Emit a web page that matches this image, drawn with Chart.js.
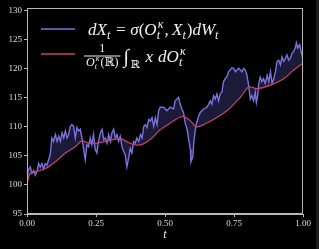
<!DOCTYPE html>
<html>
<head>
<meta charset="utf-8">
<script src="https://cdn.jsdelivr.net/npm/chart.js@4"></script>
<style>
  html, body { margin: 0; padding: 0; background: #1b1b1b; }
  #wrap { position: relative; width: 316px; height: 249px; background: #000; }
</style>
</head>
<body>
<div id="wrap"><canvas id="chart"></canvas></div>
<script>
// Path of X_t (noisy purple line)
const pathT = [
  0.000, 0.004, 0.012, 0.018, 0.024, 0.030, 0.036, 0.042, 0.048, 0.054,
  0.060, 0.066, 0.072, 0.078, 0.084, 0.090, 0.096, 0.103, 0.109, 0.115,
  0.121, 0.127, 0.133, 0.139, 0.145, 0.151, 0.157, 0.163, 0.169, 0.175,
  0.181, 0.187, 0.193, 0.199, 0.205, 0.211, 0.217, 0.223, 0.229, 0.235,
  0.241, 0.247, 0.253, 0.259, 0.266, 0.272, 0.278, 0.284, 0.290, 0.296,
  0.302, 0.308, 0.314, 0.320, 0.326, 0.332, 0.338, 0.344, 0.350, 0.356,
  0.362, 0.368, 0.374, 0.380, 0.386, 0.392, 0.398, 0.405, 0.411, 0.417,
  0.423, 0.429, 0.435, 0.441, 0.447, 0.453, 0.459, 0.465, 0.471, 0.477,
  0.483, 0.495, 0.507, 0.519, 0.531, 0.537, 0.549, 0.555, 0.561, 0.567,
  0.573, 0.580, 0.586, 0.592, 0.594, 0.601, 0.604, 0.610, 0.613, 0.622,
  0.628, 0.634, 0.640, 0.652, 0.658, 0.664, 0.670, 0.676, 0.682, 0.688,
  0.694, 0.700, 0.706, 0.712, 0.718, 0.724, 0.730, 0.736, 0.742, 0.749,
  0.755, 0.761, 0.767, 0.773, 0.779, 0.785, 0.791, 0.797, 0.803, 0.809,
  0.815, 0.821, 0.827, 0.831, 0.836, 0.839, 0.845, 0.851, 0.857, 0.863,
  0.870, 0.876, 0.882, 0.888, 0.894, 0.900, 0.906, 0.912, 0.918, 0.924,
  0.930, 0.936, 0.942, 0.948, 0.954, 0.960, 0.966, 0.972, 0.976, 0.981,
  0.988, 0.993, 1.000
];
const pathX = [
  100.2, 102.5, 103.1, 102.0, 102.5, 101.7, 102.3, 103.7, 103.1, 103.7,
  102.8, 103.7, 103.4, 104.3, 105.2, 108.1, 107.5, 108.7, 107.5, 108.4,
  107.5, 109.0, 108.1, 109.3, 108.1, 108.7, 110.1, 110.4, 110.1, 108.1,
  109.9, 109.3, 109.6, 108.1, 106.3, 104.3, 106.9, 106.6, 108.1, 106.9,
  108.7, 106.1, 105.5, 107.5, 109.0, 109.6, 107.8, 108.1, 107.2, 108.7,
  107.5, 109.0, 109.6, 108.1, 108.7, 107.5, 108.4, 106.6, 105.8, 105.2,
  103.1, 104.6, 106.3, 105.5, 107.5, 107.2, 108.1, 107.5, 108.7, 108.1,
  110.1, 110.4, 109.9, 111.3, 111.0, 111.6, 110.1, 111.6, 110.4, 112.8,
  113.4, 113.4, 112.8, 113.4, 113.1, 114.5, 115.1, 113.9, 113.1, 112.5,
  110.7, 109.6, 107.8, 106.1, 104.0, 104.9, 107.2, 109.6, 110.4, 111.9,
  112.5, 112.8, 113.1, 113.4, 113.9, 114.5, 113.9, 115.4, 114.8, 115.7,
  114.5, 115.7, 116.0, 117.8, 118.3, 118.6, 119.5, 119.8, 120.2, 120.1,
  119.5, 119.8, 120.1, 119.8, 119.5, 120.1, 119.8, 118.9, 117.2, 114.8,
  115.4, 114.5, 116.0, 114.2, 115.4, 117.2, 118.6, 117.8, 118.3, 117.5,
  118.9, 117.8, 119.5, 117.5, 118.3, 119.5, 121.3, 121.5, 120.7, 122.1,
  121.3, 121.8, 122.4, 121.5, 121.8, 122.7, 123.0, 123.6, 124.5, 123.6,
  124.2, 123.0, 121.8
];

// Mean of the measure (smooth red line)
const meanT = [
  0.000, 0.004, 0.012, 0.030, 0.066, 0.103, 0.139, 0.175, 0.199, 0.223,
  0.253, 0.284, 0.320, 0.344, 0.368, 0.392, 0.417, 0.453, 0.477, 0.501,
  0.519, 0.561, 0.586, 0.604, 0.616, 0.664, 0.724, 0.773, 0.803, 0.833,
  0.882, 0.930, 0.966, 1.000
];
const meanX = [
  100.0, 101.0, 102.0, 102.3, 102.8, 104.0, 105.5, 106.6, 107.6, 107.2,
  107.2, 107.5, 107.9, 107.9, 107.3, 106.9, 107.0, 108.1, 109.3, 110.1,
  110.7, 111.8, 111.3, 110.4, 110.0, 111.0, 112.8, 115.1, 116.9, 116.6,
  117.2, 118.3, 119.8, 121.0
];

const xTicks = [0, 0.25, 0.5, 0.75, 1];
const yTicks = [95, 100, 105, 110, 115, 120, 125, 130];

const purple = '#7b70dc';
const red = '#c8436c';
const axisGray = '#b8b8b8';
const serif = '"Liberation Serif", "DejaVu Serif", serif';

// draw a run of math pieces, left to right
function drawMath(ctx, x, y, size, parts) {
  const small = Math.round(size * 0.68);
  parts.forEach(p => {
    const text = p[0], kind = p[1];
    if (kind === 'i' || kind === 'r') {
      ctx.font = (kind === 'i' ? 'italic ' : '') + size + 'px ' + serif;
      ctx.fillText(text, x, y);
      x += ctx.measureText(text).width;
    } else if (kind === 'sub') {
      ctx.font = 'italic ' + small + 'px ' + serif;
      ctx.fillText(text, x, y + size * 0.22);
      x += ctx.measureText(text).width + 1;
    } else if (kind === 'ss') {
      const [sup, sub] = text.split('|');
      ctx.font = 'italic ' + small + 'px ' + serif;
      ctx.fillText(sup, x + 1, y - size * 0.42);
      ctx.fillText(sub, x, y + size * 0.22);
      x += Math.max(ctx.measureText(sup).width + 1, ctx.measureText(sub).width) + 1;
    } else if (kind === 'sp') {
      x += size * text;
    }
  });
  return x;
}

const mathLegend = {
  id: 'mathLegend',
  afterDraw(chart) {
    const ctx = chart.ctx;
    const a = chart.chartArea;
    ctx.save();
    // frame around the plot
    ctx.strokeStyle = axisGray;
    ctx.lineWidth = 1;
    ctx.strokeRect(Math.round(a.left) + 0.5, Math.round(a.top) + 0.5,
      Math.round(a.right - a.left) - 1, Math.round(a.bottom - a.top) - 1);

    // legend samples
    ctx.lineWidth = 1.6;
    ctx.strokeStyle = purple;
    ctx.beginPath(); ctx.moveTo(41, 29); ctx.lineTo(75, 29); ctx.stroke();
    ctx.strokeStyle = red;
    ctx.beginPath(); ctx.moveTo(41, 54); ctx.lineTo(75, 54); ctx.stroke();

    ctx.fillStyle = '#f2f2f2';
    ctx.textBaseline = 'alphabetic';
    ctx.textAlign = 'left';
    drawMath(ctx, 88, 35, 17, [
      ['d', 'i'], ['X', 'i'], ['t', 'sub'], [0.28, 'sp'], ['=', 'r'], [0.28, 'sp'],
      ['σ', 'i'], ['(', 'r'], ['O', 'i'], ['κ|t', 'ss'], [',', 'r'], [0.2, 'sp'],
      ['X', 'i'], ['t', 'sub'], [')', 'r'], ['d', 'i'], ['W', 'i'], ['t', 'sub']
    ]);

    // fraction 1 / O(R)
    const denEnd = drawMath(ctx, 86, 66, 12, [['O', 'i'], ['κ|t', 'ss'], ['(ℝ)', 'r']]);
    ctx.font = '12px ' + serif;
    ctx.textAlign = 'center';
    ctx.fillText('1', (86 + denEnd) / 2, 52);
    ctx.fillRect(84, 55.5, denEnd - 84 + 2, 1);
    ctx.textAlign = 'left';
    ctx.font = '20px ' + serif;
    ctx.fillText('∫', denEnd + 5, 63);
    ctx.font = '11px ' + serif;
    ctx.fillText('ℝ', denEnd + 12, 68);
    drawMath(ctx, denEnd + 27, 62, 17, [['x', 'i'], [0.3, 'sp'], ['d', 'i'], ['O', 'i'], ['κ|t', 'ss']]);
    ctx.restore();
  }
};

const pathData = pathT.map((t, i) => ({ x: t, y: pathX[i] }));
const meanData = meanT.map((t, i) => ({ x: t, y: meanX[i] }));

new Chart(document.getElementById('chart'), {
  type: 'line',
  data: {
    datasets: [{
      data: pathData,
      borderColor: purple,
      borderWidth: 1.4,
      pointRadius: 0,
      tension: 0,
      fill: { target: 1, above: 'rgba(110, 100, 220, 0.26)', below: 'rgba(110, 100, 220, 0.26)' },
      order: 2
    }, {
      data: meanData,
      borderColor: red,
      borderWidth: 1.2,
      pointRadius: 0,
      tension: 0.3,
      fill: false,
      order: 1
    }]
  },
  options: {
    responsive: true,
    maintainAspectRatio: false,
    animation: false,
    layout: { padding: { top: 8, right: 13, left: 0, bottom: 7 } },
    plugins: { legend: { display: false }, tooltip: { enabled: false } },
    scales: {
      x: {
        type: 'linear',
        min: 0,
        max: 1,
        afterBuildTicks: s => { s.ticks = xTicks.map(v => ({ value: v })); },
        afterFit: s => { s.height = 28; },
        ticks: {
          color: '#dddddd',
          font: { family: serif, size: 9 },
          padding: 1,
          maxRotation: 0,
          callback: v => v.toFixed(2)
        },
        grid: { drawOnChartArea: false, drawTicks: true, tickLength: 3, color: axisGray },
        border: { display: true, color: axisGray, width: 1 },
        title: {
          display: true,
          text: 't',
          color: '#eeeeee',
          font: { family: serif, size: 12, style: 'italic' },
          padding: { top: 0, bottom: 0 }
        }
      },
      y: {
        min: 95,
        max: 130.5,
        afterBuildTicks: s => { s.ticks = yTicks.map(v => ({ value: v })); },
        afterFit: s => { s.width = 27; },
        ticks: {
          color: '#dddddd',
          font: { family: serif, size: 9 },
          padding: 2
        },
        grid: { drawOnChartArea: false, drawTicks: true, tickLength: 3, color: axisGray },
        border: { display: true, color: axisGray, width: 1 }
      }
    }
  },
  plugins: [mathLegend]
});
</script>
</body>
</html>
